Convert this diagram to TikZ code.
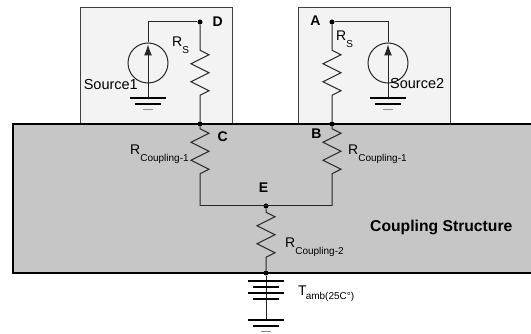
\documentclass[tikz,border=0pt]{standalone}
\usepackage{fontspec}
\setmainfont{Liberation Sans}
\usetikzlibrary{arrows.meta, decorations.pathmorphing}
\definecolor{structgray}{RGB}{198,198,198}
\definecolor{boxgray}{RGB}{243,243,243}
\newcommand{\rsub}[2]{{\fontsize{14}{14}\selectfont #1}\raisebox{-7pt}{\fontsize{10}{10}\selectfont #2}}
\tikzset{
  wire/.style = {line width=1pt, draw=black!85},
  dot/.style = {circle, fill=black, inner sep=0pt, minimum size=5pt},
  resist/.style 2 args = {wire, decorate, decoration = {zigzag, segment length=18pt, amplitude=9pt, pre length=#1, post length=#2}},
  srcbox/.style = {fill=boxgray, draw=black!75, line width=1pt},
  srccircle/.style = {circle, wire, minimum size=40pt, inner sep=0pt},
  pointlbl/.style = {font=\bfseries\fontsize{14}{14}\selectfont},
  txt/.style = {font=\fontsize{14.5}{14.5}\selectfont, inner sep=0pt},
  gnd/.pic = {
    \draw[line width=2pt] (-18,0) -- (18,0);
    \draw[line width=1.6pt] (-13,6) -- (13,6);
    \draw[line width=1pt, black!45] (-5,12) -- (5,12);
  },
  cell/.pic = {
    \draw[line width=2.2pt] (-18,0) -- (18,0);
    \draw[line width=2.2pt] (-13,6) -- (13,6);
  }
}

\begin{document}
\begin{tikzpicture}[x=1pt, y=-1pt]
\useasboundingbox (0,0) rectangle (531,334);
% source boxes and coupling structure
\draw[srcbox] (80,8) rectangle (232,124);
\draw[srcbox] (298,8) rectangle (450,124);
\fill[structgray] (13,124) rectangle (540,273);
\draw[line width=1.6pt] (540,124) -- (13,124) -- (13,273) -- (540,273);

% junctions
\node[dot] (D) at (200,22) {};
\node[dot] (C) at (200,124) {};
\node[dot] (A) at (332,22) {};
\node[dot] (B) at (332,124) {};
\node[dot] (E) at (266,206) {};
\node[dot] (T) at (266,273) {};
\coordinate (CE) at (200,206);
\coordinate (BE) at (332,206);

% sources
\node[srccircle] (src1) at (148,63) {};
\node[srccircle] (src2) at (388,63) {};
\coordinate (gnd1) at (148,98);
\coordinate (gnd2) at (388,98);
\draw[wire] (src1.north) |- (D);
\draw[wire] (src2.north) |- (A);
\draw[wire] (src1.south) -- (gnd1);
\draw[wire] (src2.south) -- (gnd2);
\draw[wire, -{Latex[length=11pt, width=8pt]}] (src1.south) -- ([yshift=-2pt]src1.north);
\draw[wire, -{Latex[length=11pt, width=8pt]}] (src2.south) -- ([yshift=-2pt]src2.north);
\pic at (gnd1) {gnd};
\pic at (gnd2) {gnd};

% resistors
\draw[resist={25.5pt}{17.5pt}] (D) -- (C);
\draw[resist={25.5pt}{17.5pt}] (A) -- (B);
\draw[resist={2pt}{24pt}] (C) -- (CE);
\draw[resist={2pt}{24pt}] (B) -- (BE);
\draw[wire] (CE) -- (BE);
\draw[resist={3.5pt}{4.5pt}] (E) -- (T);

% ambient temperature
\coordinate (gndT) at (266,320);
\draw[wire] (T) -- (gndT);
\pic at (266,281) {cell};
\pic at (266,293) {cell};
\pic at (gndT) {gnd};

% labels
\node[pointlbl, anchor=west] (labD) at (209,22) {D};
\node[pointlbl, anchor=east] (labA) at (324,21) {A};
\node[pointlbl, anchor=west] (labC) at (214,137) {C};
\node[pointlbl, anchor=east] (labB) at (325,134) {B};
\node[pointlbl, anchor=south] (labE) at (263.5,196) {E};
\node[txt, anchor=east] (lab1) at (138,85) {Source1};
\node[txt, anchor=west] (lab2) at (390,84) {Source2};
\node[inner sep=0pt, anchor=base west] (rs1) at (172,47) {\rsub{R}{S}};
\node[inner sep=0pt, anchor=base west] (rs2) at (336,41) {\rsub{R}{S}};
\node[inner sep=0pt, anchor=base west] (rc1) at (130,155) {\rsub{R}{Coupling-1}};
\node[inner sep=0pt, anchor=base west] (rc2) at (348,155) {\rsub{R}{Coupling-1}};
\node[inner sep=0pt, anchor=base west] (rc3) at (285,248) {\rsub{R}{Coupling-2}};
\node[inner sep=0pt, anchor=base west] (tamb) at (298,296) {{\fontsize{14}{14}\selectfont T}\kern-1pt\raisebox{-4pt}{\fontsize{10}{10}\selectfont amb(25C°)}};
\node[font=\bfseries\fontsize{15.7}{15.7}\selectfont, inner sep=0pt, anchor=west] (title) at (370,227) {Coupling Structure};
\end{tikzpicture}
\end{document}
